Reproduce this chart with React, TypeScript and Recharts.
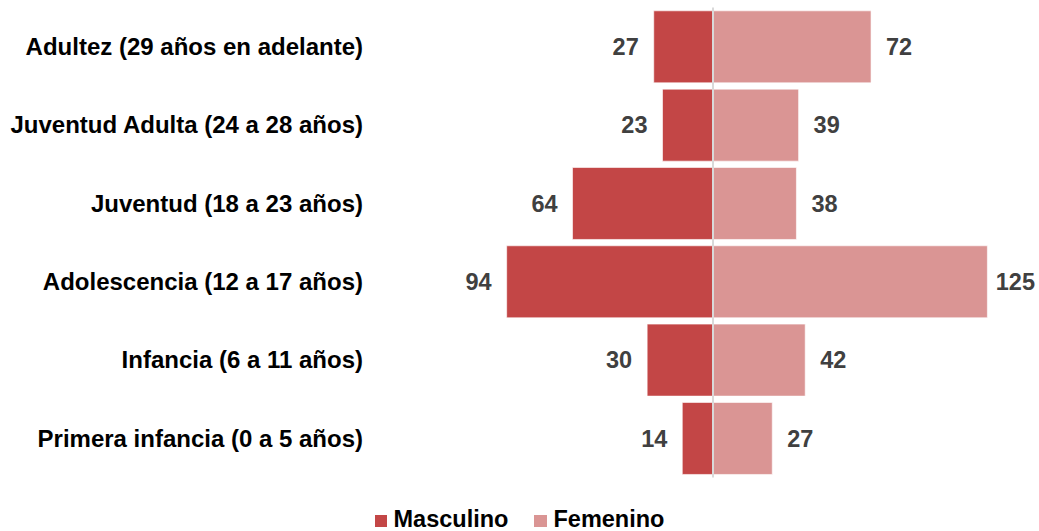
import React from "react";
import {
  BarChart,
  Bar,
  XAxis,
  YAxis,
  LabelList,
  Legend,
  ReferenceLine,
} from "recharts";

const categories = [
  "Adultez (29 años en adelante)",
  "Juventud Adulta (24 a 28 años)",
  "Juventud (18 a 23 años)",
  "Adolescencia (12 a 17 años)",
  "Infancia (6 a 11 años)",
  "Primera infancia (0 a 5 años)",
];
const masculino = [27, 23, 64, 94, 30, 14];
const femenino = [72, 39, 38, 125, 42, 27];

const data = categories.map((name, i) => ({
  name,
  masculino: -masculino[i],
  femenino: femenino[i],
}));

const W = 1039;
const H = 531;
const FONT = "'Liberation Sans', Arial, sans-serif";
const RED = "#C34646";
const PINK = "#DA9594";
const VALUE_SIZE = 23.5;

// value labels sit outside the bar end; keep the widest one inside the picture
const valueLabel = (side: "left" | "right") => (props: any) => {
  const x = Number(props.x);
  const y = Number(props.y);
  const w = Number(props.width);
  const h = Number(props.height);
  const v = Math.abs(Number(props.value));
  const l = Math.min(x, x + w);
  const r = Math.max(x, x + w);
  const textW = String(v).length * 0.556 * VALUE_SIZE;
  const tx = side === "left" ? l - 15 : Math.min(r + 15, W - 4 - textW);
  return (
    <text
      x={tx}
      y={y + h / 2}
      dy="0.355em"
      textAnchor={side === "left" ? "end" : "start"}
      fill="#404040"
      fontSize={VALUE_SIZE}
      fontWeight={700}
      fontFamily={FONT}
    >
      {v}
    </text>
  );
};

function LegendContent() {
  const items = [
    { label: "Masculino", color: RED },
    { label: "Femenino", color: PINK },
  ];
  return (
    <div
      style={{
        textAlign: "center",
        fontFamily: FONT,
        fontWeight: 700,
        fontSize: 23.5,
        lineHeight: "24px",
        color: "#000",
        whiteSpace: "nowrap",
      }}
    >
      {items.map((it, i) => (
        <span key={it.label} style={{ marginLeft: i > 0 ? 26 : 0 }}>
          <span
            style={{
              display: "inline-block",
              width: 12.5,
              height: 12.5,
              background: it.color,
              marginRight: 6.5,
              verticalAlign: "baseline",
            }}
          />
          {it.label}
        </span>
      ))}
    </div>
  );
}

export default function App() {
  return (
    <div
      style={{
        position: "absolute",
        left: 0,
        top: 0,
        width: W,
        height: H,
        background: "#fff",
      }}
    >
      <BarChart
        width={W}
        height={H}
        data={data}
        layout="vertical"
        stackOffset="sign"
        barCategoryGap="4.3%"
        margin={{ top: 7.45, right: 40.65, bottom: 53.6, left: 0 }}
      >
        <XAxis type="number" domain={[-100, 130]} hide />
        <YAxis
          type="category"
          dataKey="name"
          width={493.5}
          axisLine={false}
          tickLine={false}
          tickSize={0}
          tickMargin={130.5}
          interval={0}
          tick={{
            fill: "#000",
            fontSize: 24,
            fontWeight: 700,
            fontFamily: FONT,
          }}
        />
        <Bar
          dataKey="masculino"
          stackId="a"
          fill={RED}
          stroke="#fff"
          strokeWidth={0.6}
          isAnimationActive={false}
        >
          <LabelList dataKey="masculino" content={valueLabel("left")} />
        </Bar>
        <Bar
          dataKey="femenino"
          stackId="a"
          fill={PINK}
          stroke="#fff"
          strokeWidth={0.6}
          isAnimationActive={false}
        >
          <LabelList dataKey="femenino" content={valueLabel("right")} />
        </Bar>
        <ReferenceLine x={0} stroke="#D9D9D9" strokeWidth={2} />
        <Legend
          layout="horizontal"
          verticalAlign="middle"
          align="center"
          content={<LegendContent />}
          wrapperStyle={{ left: 0, top: 507, width: W }}
        />
      </BarChart>
    </div>
  );
}
